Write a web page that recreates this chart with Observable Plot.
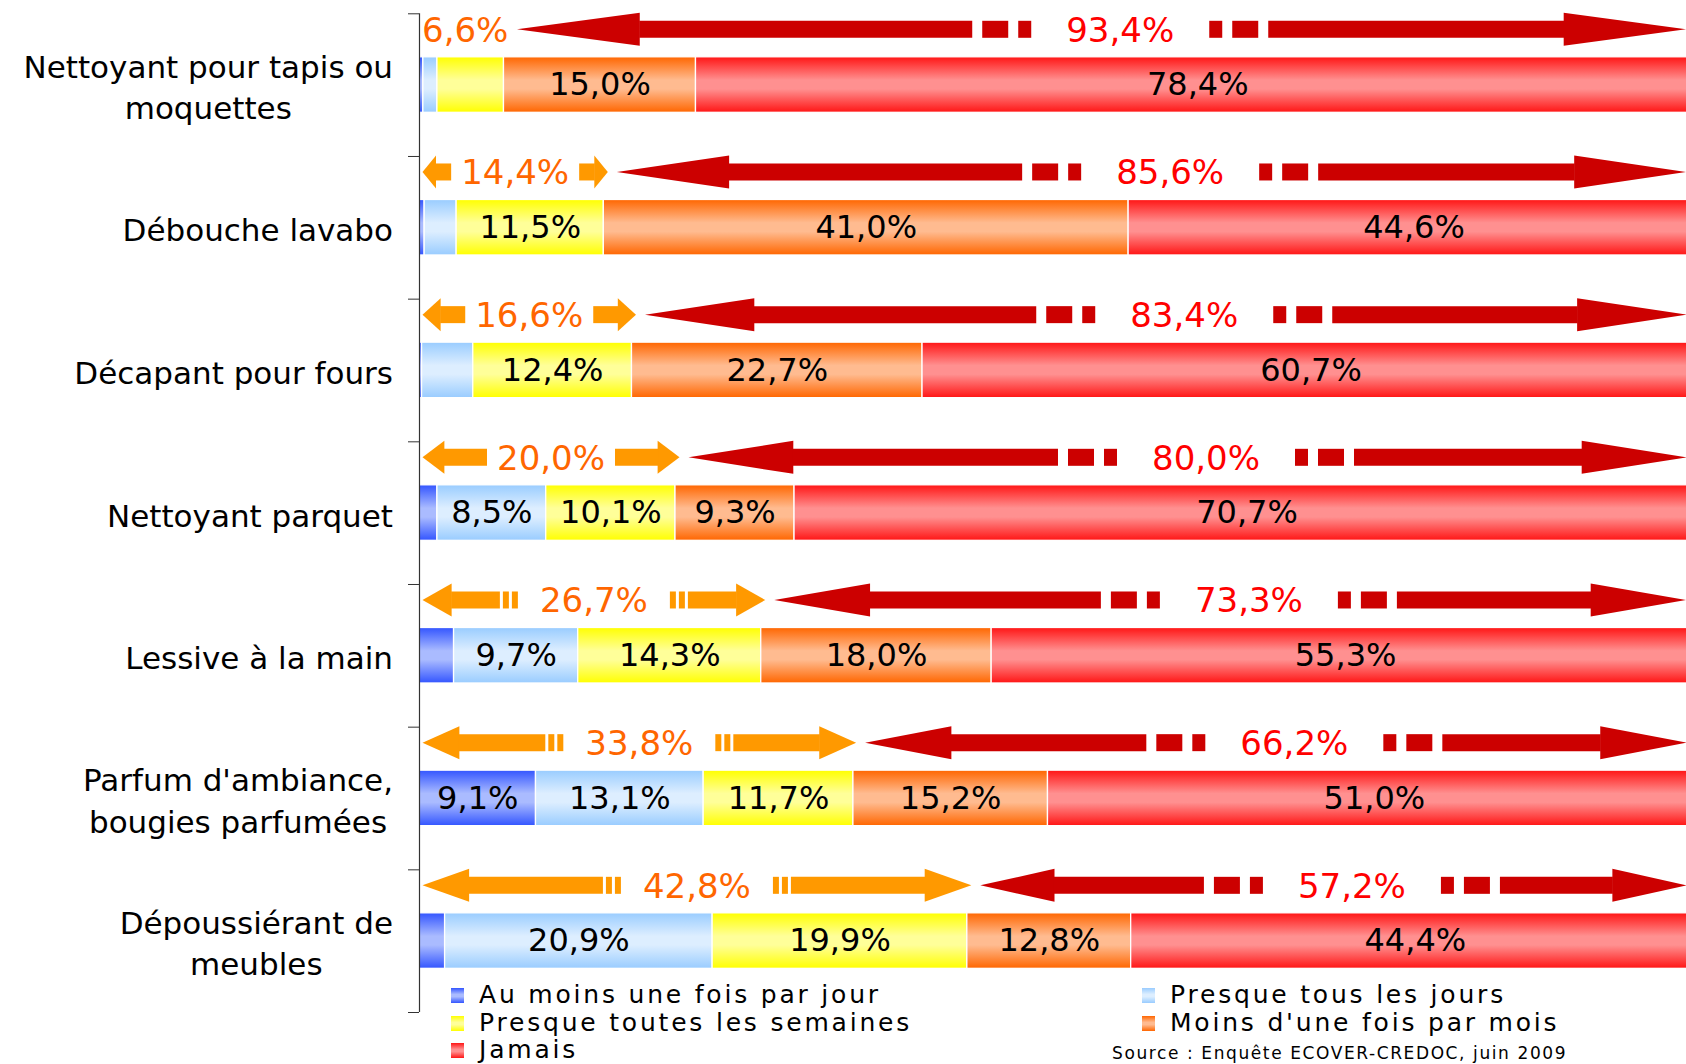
<!DOCTYPE html>
<html><head><meta charset="utf-8">
<script src="https://cdn.jsdelivr.net/npm/d3@7"></script>
<script src="https://cdn.jsdelivr.net/npm/@observablehq/plot@0.6"></script>
<style>
html,body{margin:0;padding:0;background:#fff;overflow:hidden;width:1686px;height:1064px}
#wrap{position:relative;width:1686px;height:1064px;overflow:hidden}
.li{position:absolute;display:flex;align-items:center;white-space:nowrap;font-family:"DejaVu Sans";font-size:25px;line-height:28px;letter-spacing:2.8px;color:#000}
.sw{width:13px;height:15px;margin-right:15px;flex:none}
#source{position:absolute;left:1112px;top:1043px;font-family:"DejaVu Sans";font-size:17px;line-height:20px;letter-spacing:1.6px;white-space:nowrap;color:#000}
</style></head><body><div id="wrap"></div>
<script>
// ---- data ----
const categories = ["Nettoyant pour tapis ou\nmoquettes","Débouche lavabo","Décapant pour fours","Nettoyant parquet","Lessive à la main","Parfum d'ambiance,\nbougies parfumées","Dépoussiérant de\nmeubles"];
const series = ["Au moins une fois par jour","Presque tous les jours","Presque toutes les semaines","Moins d'une fois par mois","Jamais"];
const daily       = [0.3, 0.4, 0.2, 1.4, 2.7, 9.1, 2.0];
const nearlyDaily = [1.1, 2.5, 4.0, 8.5, 9.7, 13.1, 20.9];
const weekly      = [5.2, 11.5, 12.4, 10.1, 14.3, 11.7, 19.9];
const monthly     = [15.0, 41.0, 22.7, 9.3, 18.0, 15.2, 12.8];
const never       = [78.4, 44.6, 60.7, 70.7, 55.3, 51.0, 44.4];
const frequentTotals = [6.6, 14.4, 16.6, 20.0, 26.7, 33.8, 42.8];
const rareTotals     = [93.4, 85.6, 83.4, 80.0, 73.3, 66.2, 57.2];
const sourceText = "Source : Enquête ECOVER-CREDOC, juin 2009";

// ---- layout / style ----
const W = 1686, H = 1064;
const X0 = 419, X100 = 1699, Y0 = 13.3, Y7 = 1012;
const xs = d3.scaleLinear([0,100],[X0,X100]);
const ys = d3.scaleLinear([0,7],[Y0,Y7]);
const step = (Y7 - Y0) / 7;
const BAR_T = 43.5 / step, BAR_B = 99 / step;
const AY = 15.5, BODY = 8.5, HEAD = 16.5;
const LBL = 34, VAL = 32, CAT = 31;
const gradStops = [["#3355FF","#AABBFF"],["#99CCFF","#DDEEFF"],["#FFFF00","#FFFF99"],["#FF6600","#FFBB90"],["#FF1515","#FF9090"]];
const fmt = v => v.toFixed(1).replace(".", ",") + "%";

const ctx = document.createElement("canvas").getContext("2d");
function tw(text, size){ ctx.font = size + 'px "DejaVu Sans"'; return ctx.measureText(text).width; }

// ---- bars table ----
const seriesValues = [daily, nearlyDaily, weekly, monthly, never];
const bars = [];
categories.forEach((c,i) => { let cum = 0; seriesValues.forEach((vals,j) => { const v = vals[i]; bars.push({i, j, v, x1: cum, x2: cum + v}); cum += v; }); });

// ---- arrows ----
const orangePolys = [], redPolys = [], arrowTexts = [];
function buildArrow(out, id, yc, L, R, c, w, ratio, st) {
  const tL = c - w/2, tR = c + w/2;
  const spaceL = tL - L, spaceR = R - tR;
  const space = Math.min(spaceL, spaceR);
  if (space < 25) return;
  const h = Math.min(ratio * (R - L), 0.35 * space);
  let k = 0;
  const poly = pts => { const key = id + "-" + (k++); pts.concat([pts[0]]).forEach(([x,y]) => out.push({key, x: xs.invert(x), y: ys.invert(y)})); };
  const rect = (a,b) => { if (b > a) poly([[a,yc-BODY],[b,yc-BODY],[b,yc+BODY],[a,yc+BODY]]); };
  poly([[L,yc],[L+h,yc-HEAD],[L+h,yc+HEAD]]);
  poly([[R,yc],[R-h,yc-HEAD],[R-h,yc+HEAD]]);
  if (space > st.thresh) {
    let x = tL - st.gapText;
    rect(x - st.dashB, x); x -= st.dashB + st.gap;
    rect(x - st.dashA, x); x -= st.dashA + st.gap;
    rect(L + h - 0.5, x);
    let y = tR + st.gapText;
    rect(y, y + st.dashB); y += st.dashB + st.gap;
    rect(y, y + st.dashA); y += st.dashA + st.gap;
    rect(y, R - h + 0.5);
  } else {
    rect(L + h - 0.5, tL - 10);
    rect(tR + 10, R - h + 0.5);
  }
}
const oStyle = {gapText: 22, dashA: 6, dashB: 6, gap: 3, thresh: 90};
const rStyle = {gapText: 35, dashA: 26, dashB: 13, gap: 10, thresh: 90};
categories.forEach((c,i) => {
  const yc = Y0 + i*step + AY;
  const F = xs(frequentTotals[i]);
  const oL = xs(0) + 3, oR = F + 4;
  const oText = fmt(frequentTotals[i]), oW = tw(oText, LBL), oC = (oL + oR) / 2;
  buildArrow(orangePolys, "o"+i, yc, oL, oR, oC, oW, 0.085, oStyle);
  arrowTexts.push({x: xs.invert(oC), y: ys.invert(yc + 1.5), text: oText, color: "#FF6600"});
  const rL = Math.max(F + 13, oC + oW/2 + 4), rR = Math.min(xs(100), W);
  const rText = fmt(rareTotals[i]), rW = tw(rText, LBL), rC = (rL + xs(100)) / 2 + 12;
  buildArrow(redPolys, "r"+i, yc, rL, rR, rC, rW, 0.105, rStyle);
  arrowTexts.push({x: xs.invert(rC), y: ys.invert(yc + 1.5), text: rText, color: "#FF0000"});
});

const catLabels = categories.map((c,i) => {
  const w = Math.max(...c.split("\n").map(l => tw(l, CAT)));
  return {x: xs.invert(392.5 - w/2), y: i + 0.5, text: c};
});

const svg = Plot.plot({
  width: W, height: H,
  marginLeft: X0, marginRight: 0, marginTop: Y0, marginBottom: H - Y7,
  x: {domain: [0,100], range: [X0, X100], axis: null},
  y: {domain: [0,7], range: [Y0, Y7]},
  style: {fontFamily: '"DejaVu Sans"', background: "white", overflow: "hidden"},
  marks: [
    ...series.map((s,j) => Plot.rect(bars.filter(d => d.j === j), {x1: "x1", x2: "x2", y1: d => d.i + BAR_T, y2: d => d.i + BAR_B, fill: `url(#grad${j})`, stroke: "white", strokeWidth: 1.3})),
    Plot.text(bars.filter(d => d.v >= 8), {x: d => (d.x1 + d.x2) / 2, y: d => d.i + 0.5, text: d => fmt(d.v), fontSize: VAL, fill: "black"}),
    Plot.line(orangePolys, {x: "x", y: "y", z: "key", fill: "#FF9900", stroke: "none", curve: "linear"}),
    Plot.line(redPolys, {x: "x", y: "y", z: "key", fill: "#CC0000", stroke: "none", curve: "linear"}),
    Plot.text(arrowTexts, {x: "x", y: "y", text: "text", fill: "color", fontSize: LBL}),
    Plot.ruleX([0], {y1: 0, y2: 7, stroke: "#333", strokeWidth: 1.2}),
    Plot.axisY({ticks: d3.range(8), tickSize: 11, tickFormat: () => "", stroke: "#333", label: null}),
    Plot.text(catLabels, {x: "x", y: "y", text: "text", textAnchor: "middle", fontSize: CAT, lineHeight: 1.35, fill: "black"})
  ]
});
const defs = d3.select(svg).insert("defs", ":first-child");
gradStops.forEach(([e,m], j) => {
  const g = defs.append("linearGradient").attr("id", "grad"+j).attr("x1",0).attr("y1",0).attr("x2",0).attr("y2",1);
  [[0,e],[0.42,m],[0.58,m],[1,e]].forEach(([o,c]) => g.append("stop").attr("offset", o).attr("stop-color", c));
});
const wrap = document.getElementById("wrap");
wrap.appendChild(svg);
svg.style.position = "absolute"; svg.style.left = "0"; svg.style.top = "0";

// legend
const legendPos = [[451, 995],[1142, 995],[451, 1023],[1142, 1023],[451, 1050]];
series.forEach((s,j) => {
  const [e,m] = gradStops[j];
  const d = document.createElement("div");
  d.className = "li";
  d.style.left = legendPos[j][0] + "px";
  d.style.top = (legendPos[j][1] - 14) + "px";
  d.innerHTML = `<span class="sw" style="background:linear-gradient(to bottom, ${e}, ${m} 42%, ${m} 58%, ${e})"></span><span>${s}</span>`;
  wrap.appendChild(d);
});
const src = document.createElement("div");
src.id = "source"; src.textContent = sourceText;
wrap.appendChild(src);
</script></body></html>
